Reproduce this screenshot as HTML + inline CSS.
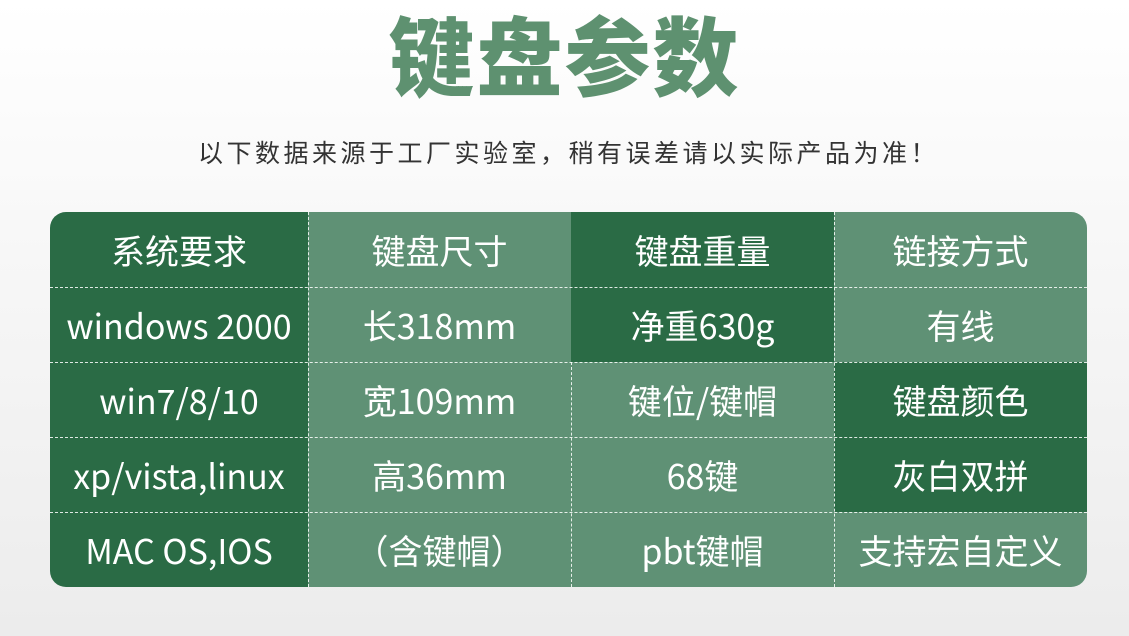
<!DOCTYPE html>
<html><head><meta charset="utf-8"><style>
body{margin:0;width:1129px;height:636px;overflow:hidden;background:linear-gradient(#ffffff 0%,#f7f7f7 40%,#ececec 100%);font-family:"Liberation Sans","Noto Sans CJK SC",sans-serif;position:relative}
.title{position:absolute;left:0;width:1129px;top:2px;text-align:center;font-size:86px;font-weight:900;color:#5e9170;letter-spacing:2px;line-height:100px;font-family:"Noto Sans CJK SC",sans-serif}
.sub{position:absolute;left:4px;width:1129px;top:136px;text-align:center;font-size:25px;color:#333;letter-spacing:3.5px;line-height:36px}
.tbl{position:absolute;left:50px;top:212px;width:1037px;height:375px;border-radius:16px;overflow:hidden}
.c{position:absolute;color:#fff;font-size:34px;display:flex;align-items:center;justify-content:center;box-sizing:border-box;font-family:"Noto Sans CJK SC",sans-serif;white-space:nowrap}
.d{background:#2a6b45}.l{background:#5f9175}
.h{position:absolute;left:0;width:1037px;border-top:1.5px dashed rgba(255,255,255,.85)}
.v{position:absolute;top:0;height:375px;border-left:1.5px dashed rgba(255,255,255,.85)}
</style></head><body>
<div class="title">键盘参数</div>
<div class="sub">以下数据来源于工厂实验室，稍有误差请以实际产品为准！</div>
<div class="tbl">
<div class="c d" style="left:0;top:0;width:258px;height:75px">系统要求</div>
<div class="c l" style="left:258px;top:0;width:263px;height:75px">键盘尺寸</div>
<div class="c d" style="left:521px;top:0;width:263px;height:75px">键盘重量</div>
<div class="c l" style="left:784px;top:0;width:253px;height:75px">链接方式</div>

<div class="c d" style="left:0;top:75px;width:258px;height:75px">windows 2000</div>
<div class="c l" style="left:258px;top:75px;width:263px;height:75px">长318mm</div>
<div class="c d" style="left:521px;top:75px;width:263px;height:75px">净重630g</div>
<div class="c l" style="left:784px;top:75px;width:253px;height:75px">有线</div>

<div class="c d" style="left:0;top:150px;width:258px;height:75px">win7/8/10</div>
<div class="c l" style="left:258px;top:150px;width:263px;height:75px">宽109mm</div>
<div class="c l" style="left:521px;top:150px;width:263px;height:75px">键位/键帽</div>
<div class="c d" style="left:784px;top:150px;width:253px;height:75px">键盘颜色</div>

<div class="c d" style="left:0;top:225px;width:258px;height:75px">xp/vista,linux</div>
<div class="c l" style="left:258px;top:225px;width:263px;height:75px">高36mm</div>
<div class="c l" style="left:521px;top:225px;width:263px;height:75px">68键</div>
<div class="c d" style="left:784px;top:225px;width:253px;height:75px">灰白双拼</div>

<div class="c d" style="left:0;top:300px;width:258px;height:75px">MAC OS,IOS</div>
<div class="c l" style="left:258px;top:300px;width:263px;height:75px">（含键帽）</div>
<div class="c l" style="left:521px;top:300px;width:263px;height:75px">pbt键帽</div>
<div class="c l" style="left:784px;top:300px;width:253px;height:75px">支持宏自定义</div>

<div class="h" style="top:75px"></div><div class="h" style="top:150px"></div><div class="h" style="top:225px"></div><div class="h" style="top:300px"></div>
<div class="v" style="left:258px"></div><div class="v" style="left:521px;top:150px;height:225px"></div><div class="v" style="left:784px"></div>
</div>
</body></html>
